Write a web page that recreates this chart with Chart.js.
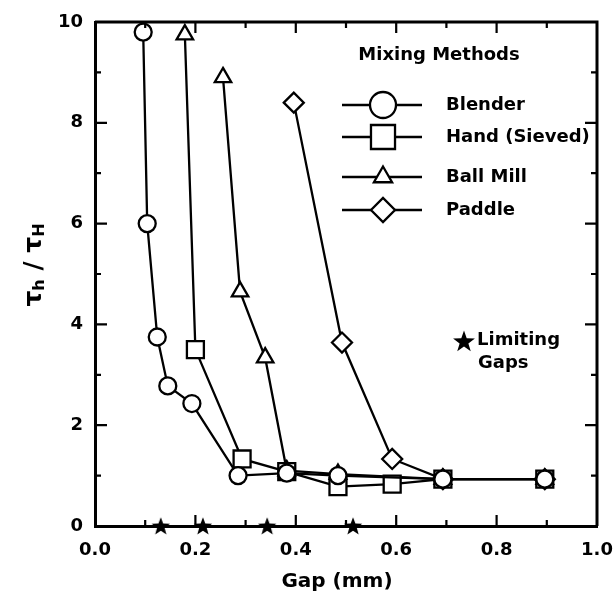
<!DOCTYPE html>
<html><head><meta charset="utf-8">
<script src="https://cdn.jsdelivr.net/npm/chart.js@4.4.0/dist/chart.umd.min.js"></script>
<style>html,body{margin:0;padding:0;background:#fff;}#wrap{width:614px;height:596px;}</style>
</head><body><div id="wrap"><canvas id="c" width="614" height="596"></canvas></div>
<script>
// ---- data ----
const seriesNames = ['Blender', 'Hand (Sieved)', 'Ball Mill', 'Paddle'];
const blenderGap   = [0.096, 0.104, 0.124, 0.145, 0.193, 0.285, 0.382, 0.484, 0.693, 0.896];
const blenderRatio = [9.8, 6.0, 3.75, 2.78, 2.43, 1.0, 1.05, 1.0, 0.93, 0.93];
const handGap      = [0.179, 0.2, 0.293, 0.382, 0.484, 0.592, 0.693, 0.896];
const handRatio    = [9.75, 3.5, 1.33, 1.08, 0.78, 0.83, 0.93, 0.93];
const ballGap      = [0.255, 0.289, 0.339, 0.382, 0.484, 0.693, 0.896];
const ballRatio    = [8.9, 4.65, 3.34, 1.1, 1.03, 0.93, 0.93];
const paddleGap    = [0.396, 0.492, 0.592, 0.693, 0.896];
const paddleRatio  = [8.4, 3.64, 1.33, 0.93, 0.93];
const limitingGaps  = [0.131, 0.215, 0.343, 0.514];
const limitingRatio = [0, 0, 0, 0];
const xTickLabels = ['0.0', '0.2', '0.4', '0.6', '0.8', '1.0'];
const yTickLabels = ['0', '2', '4', '6', '8', '10'];
const legendTitle = 'Mixing Methods';
const starLabel = ['Limiting', 'Gaps'];
const xTitle = 'Gap (mm)';

const FONT = 'DejaVu Sans';
function pts(xs, ys) { return xs.map((x, i) => ({x: x, y: ys[i]})); }

function starPath(g, cx, cy, R, r) {
  g.beginPath();
  for (let i = 0; i < 10; i++) {
    const a = -Math.PI / 2 + i * Math.PI / 5;
    const rr = i % 2 === 0 ? R : r;
    const px = cx + Math.cos(a) * rr, py = cy + Math.sin(a) * rr;
    if (i === 0) g.moveTo(px, py); else g.lineTo(px, py);
  }
  g.closePath();
}
const starImg = (function () {
  const c = document.createElement('canvas');
  c.width = 20; c.height = 20;
  const g = c.getContext('2d');
  g.fillStyle = '#000';
  starPath(g, 10, 10.8, 9.6, 4);
  g.fill();
  return c;
})();

function drawMarker(g, style, x, y, r) {
  g.beginPath();
  if (style === 'circle') {
    g.arc(x, y, r, 0, Math.PI * 2);
  } else if (style === 'rect') {
    const s = Math.SQRT1_2 * r;
    g.rect(x - s, y - s, 2 * s, 2 * s);
  } else if (style === 'triangle') {
    let a = 0;
    for (let i = 0; i < 3; i++) {
      const px = x + Math.sin(a) * r, py = y - Math.cos(a) * r;
      if (i === 0) g.moveTo(px, py); else g.lineTo(px, py);
      a += 2 * Math.PI / 3;
    }
    g.closePath();
  } else if (style === 'rectRot') {
    g.moveTo(x - r, y); g.lineTo(x, y - r); g.lineTo(x + r, y); g.lineTo(x, y + r);
    g.closePath();
  }
  g.fillStyle = '#fff';
  g.fill();
  g.lineWidth = 2.3;
  g.strokeStyle = '#000';
  g.stroke();
}

const framePlugin = {
  id: 'frame',
  afterDraw(chart) {
    const g = chart.ctx;
    const xs = chart.scales.x, ys = chart.scales.y;
    const a = chart.chartArea;
    g.save();
    g.strokeStyle = '#000';
    g.lineWidth = 3;
    g.beginPath();
    g.moveTo(a.left, a.top); g.lineTo(a.right, a.top); g.lineTo(a.right, a.bottom);
    g.stroke();
    g.lineWidth = 2.2;
    // inward ticks
    for (let k = 1; k < 10; k++) {
      const px = xs.getPixelForValue(k / 10);
      const L = k % 2 === 0 ? 11 : 6;
      g.beginPath();
      g.moveTo(px, a.bottom); g.lineTo(px, a.bottom - L);
      g.moveTo(px, a.top); g.lineTo(px, a.top + L);
      g.stroke();
    }
    for (let k = 1; k < 10; k++) {
      const py = ys.getPixelForValue(k);
      const L = k % 2 === 0 ? 12 : 6;
      g.beginPath();
      g.moveTo(a.left, py); g.lineTo(a.left + L, py);
      g.moveTo(a.right, py); g.lineTo(a.right - L, py);
      g.stroke();
    }
    // legend
    g.fillStyle = '#000';
    g.font = 'bold 18px "' + FONT + '"';
    g.textBaseline = 'middle';
    g.textAlign = 'center';
    g.fillText(legendTitle, 439, 55);
    const ly = [105, 137, 177, 210];
    const lstyle = ['circle', 'rect', 'triangle', 'rectRot'];
    const lr = [13, 17, 10.5, 12];
    g.textAlign = 'left';
    for (let i = 0; i < 4; i++) {
      g.beginPath();
      g.lineWidth = 2.3;
      g.strokeStyle = '#000';
      g.moveTo(342, ly[i]); g.lineTo(422, ly[i]);
      g.stroke();
      drawMarker(g, lstyle[i], 383, ly[i], lr[i]);
      g.fillStyle = '#000';
      g.fillText(seriesNames[i], 446, ly[i]);
    }
    // limiting gaps note
    g.fillStyle = '#000';
    starPath(g, 464, 342, 11.5, 4.6);
    g.fill();
    g.fillText(starLabel[0], 477, 340);
    g.fillText(starLabel[1], 478, 363);
    // x title
    g.textAlign = 'center';
    g.font = 'bold 20px "' + FONT + '"';
    g.fillText(xTitle, 337, 582);
    // y title: tau_h / tau_H rotated
    g.translate(34, 265);
    g.rotate(-Math.PI / 2);
    const big = 'bold 25px "' + FONT + '"', small = 'bold 16px "' + FONT + '"';
    const parts = [['τ', big, 0], ['h', small, 6], [' / ', big, 0], ['τ', big, 0], ['H', small, 6]];
    let w = 0;
    parts.forEach(p => { g.font = p[1]; w += g.measureText(p[0]).width; });
    let cx = -w / 2;
    g.textAlign = 'left';
    g.textBaseline = 'middle';
    parts.forEach(p => { g.font = p[1]; g.fillText(p[0], cx, p[2]); cx += g.measureText(p[0]).width; });
    g.restore();
  }
};

const common = {showLine: true, borderColor: '#000', borderWidth: 2.3, tension: 0,
  pointBackgroundColor: '#fff', pointBorderColor: '#000', pointBorderWidth: 2.3};

new Chart(document.getElementById('c').getContext('2d'), {
  type: 'scatter',
  data: {
    datasets: [
      Object.assign({label: seriesNames[0], data: pts(blenderGap, blenderRatio), pointStyle: 'circle', pointRadius: 8.5}, common),
      Object.assign({label: seriesNames[1], data: pts(handGap, handRatio),
        pointStyle: handGap.map((_, i) => i === 0 ? 'triangle' : 'rect'),
        pointRadius: handGap.map((_, i) => i === 0 ? 9.5 : 12)}, common),
      Object.assign({label: seriesNames[2], data: pts(ballGap, ballRatio), pointStyle: 'triangle', pointRadius: 9.5}, common),
      Object.assign({label: seriesNames[3], data: pts(paddleGap, paddleRatio), pointStyle: 'rectRot', pointRadius: 10}, common),
      {label: 'Limiting Gaps', data: pts(limitingGaps, limitingRatio), showLine: false, pointStyle: starImg, pointRadius: 9, clip: false}
    ]
  },
  options: {
    responsive: false,
    animation: false,
    events: [],
    layout: {padding: {top: 22, right: 17, left: 0, bottom: 0}},
    plugins: {legend: {display: false}, tooltip: {enabled: false}},
    scales: {
      x: {
        type: 'linear', min: 0, max: 1,
        afterFit(s) { s.height = 70; s.paddingLeft = 0; s.paddingRight = 0; },
        grid: {display: false, drawTicks: false, tickLength: 0},
        border: {display: true, color: '#000', width: 3},
        ticks: {stepSize: 0.1, autoSkip: false, maxRotation: 0, padding: 14, color: '#000',
          font: {family: FONT, size: 18, weight: 'bold'},
          callback: (v) => { const k = Math.round(v * 10); return k % 2 === 0 ? xTickLabels[k / 2] : ''; }}
      },
      y: {
        type: 'linear', min: 0, max: 10,
        afterFit(s) { s.width = 95; s.paddingTop = 0; s.paddingBottom = 0; },
        grid: {display: false, drawTicks: false, tickLength: 0},
        border: {display: true, color: '#000', width: 3},
        ticks: {stepSize: 1, autoSkip: false, padding: 12, color: '#000',
          font: {family: FONT, size: 18, weight: 'bold'},
          callback: (v) => { const k = Math.round(v); return k % 2 === 0 ? yTickLabels[k / 2] : ''; }}
      }
    }
  },
  plugins: [framePlugin]
});
</script>
</body></html>
